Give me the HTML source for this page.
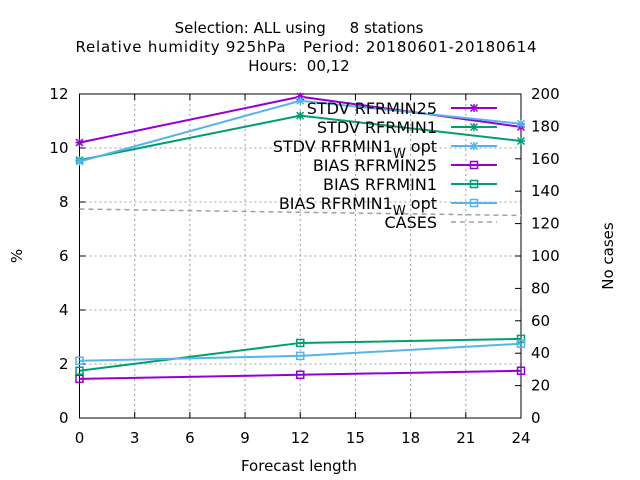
<!DOCTYPE html>
<html><head><meta charset="utf-8"><style>
body{margin:0;background:#fff;}
svg{display:block;font-family:"DejaVu Sans","Liberation Sans",sans-serif;}
svg text{white-space:pre;}
</style></head><body>
<svg id="chart" width="640" height="480" viewBox="0 0 640 480">
<g font-size="15" text-anchor="middle" fill="#000">
<text x="299" y="33" xml:space="preserve">Selection: ALL using     8 stations</text>
<text x="306" y="52" xml:space="preserve" textLength="461">Relative humidity 925hPa   Period: 20180601-20180614</text>
<text x="299" y="71" xml:space="preserve">Hours:  00,12</text>
</g>
<g id="grid"></g>
<g id="axes"></g>
<g id="series"></g>
<g id="legend"></g>
<text x="22" y="256" font-size="15" text-anchor="middle" transform="rotate(-90 22 256)">%</text>
<text x="613" y="256" font-size="15" text-anchor="middle" transform="rotate(-90 613 256)">No cases</text>
<text x="299" y="471" font-size="15" text-anchor="middle">Forecast length</text>
</svg>
<script>
const xVals=[0,12,24];
const stdv25=[10.2,11.9,10.78];
const stdv1=[9.55,11.2,10.26];
const stdvW=[9.5,11.75,10.9];
const bias25=[1.45,1.6,1.75];
const bias1=[1.75,2.78,2.93];
const biasW=[2.12,2.3,2.75];
const cases=[129,127,125];
const xTicks=[0,3,6,9,12,15,18,21,24];
const yTicks=[0,2,4,6,8,10,12];
const y2Ticks=[0,20,40,60,80,100,120,140,160,180,200];
const legendLabels=["STDV RFRMIN25","STDV RFRMIN1","STDV RFRMIN1_W opt","BIAS RFRMIN25","BIAS RFRMIN1","BIAS RFRMIN1_W opt","CASES"];

const L=79.5,R=521,T=94,B=418;
const X=v=>L+(R-L)*v/24, Y=v=>B-(B-T)*v/12, Y2=v=>B-(B-T)*v/200;
const NS="http://www.w3.org/2000/svg";
function mk(p,tag,a){const e=document.createElementNS(NS,tag);for(const k in a)e.setAttribute(k,a[k]);p.appendChild(e);return e;}
const grid=document.getElementById('grid'),axes=document.getElementById('axes'),ser=document.getElementById('series'),leg=document.getElementById('legend');
xTicks.forEach(t=>{
 if(t>0&&t<24){const g=mk(grid,'line',{x1:X(t),x2:X(t),y1:T,y2:B,stroke:'#a0a0a0','stroke-dasharray':'2,3','stroke-width':1});
 }
 const tk=mk(axes,'line',{x1:X(t),x2:X(t),y1:B,y2:B-6,stroke:'#000'});
 const tk2=mk(axes,'line',{x1:X(t),x2:X(t),y1:T,y2:T+6,stroke:'#000'});
 const tx=mk(axes,'text',{x:X(t),y:B+25,'font-size':15,'text-anchor':'middle'});tx.textContent=t;
 
});
yTicks.forEach(t=>{
 if(t>0&&t<12){const g=mk(grid,'line',{x1:L,x2:R,y1:Y(t),y2:Y(t),stroke:'#a0a0a0','stroke-dasharray':'2,3','stroke-width':1});
 }
 const tk=mk(axes,'line',{x1:L,x2:L+6,y1:Y(t),y2:Y(t),stroke:'#000'});
 const tx=mk(axes,'text',{x:L-11,y:Y(t)+5,'font-size':15,'text-anchor':'end'});tx.textContent=t;
 
});
y2Ticks.forEach(t=>{
 const tk=mk(axes,'line',{x1:R-6,x2:R,y1:Y2(t),y2:Y2(t),stroke:'#000'});
 const tx=mk(axes,'text',{x:R+10,y:Y2(t)+5,'font-size':15,'text-anchor':'start'});tx.textContent=t;
 
});
const frame=mk(axes,'rect',{x:L,y:T,width:R-L,height:B-T,fill:'none',stroke:'#000','stroke-width':1});


function star(p,x,y,c){const g=mk(p,'g',{stroke:c,'stroke-width':1.5});
 mk(g,'line',{x1:x-4,x2:x+4,y1:y,y2:y});mk(g,'line',{x1:x,x2:x,y1:y-4,y2:y+4});
 mk(g,'line',{x1:x-3.5,x2:x+3.5,y1:y-3.5,y2:y+3.5});mk(g,'line',{x1:x-3.5,x2:x+3.5,y1:y+3.5,y2:y-3.5});
 }
function box(p,x,y,c){const r=mk(p,'rect',{x:x-3.5,y:y-3.5,width:7,height:7,fill:'none',stroke:c,'stroke-width':1.5});
 }
const defs=[
 [stdv25,'#9400d3',star,'stdv-rfrmin25'],[stdv1,'#009e73',star,'stdv-rfrmin1'],[stdvW,'#56b4e9',star,'stdv-rfrmin1-w-opt'],
 [bias25,'#9400d3',box,'bias-rfrmin25'],[bias1,'#009e73',box,'bias-rfrmin1'],[biasW,'#56b4e9',box,'bias-rfrmin1-w-opt']];
const cl=mk(ser,'polyline',{points:xVals.map((x,i)=>X(x)+','+Y2(cases[i])).join(' '),fill:'none',stroke:'#a0a0a0','stroke-width':1.5,'stroke-dasharray':'5,4'});

defs.forEach(d=>{const g=mk(ser,'g',{});
 
 mk(g,'polyline',{points:xVals.map((x,i)=>X(x)+','+Y(d[0][i])).join(' '),fill:'none',stroke:d[1],'stroke-width':2});
 xVals.forEach((x,i)=>d[2](g,X(x),Y(d[0][i]),d[1]));});
legendLabels.forEach((lab,i)=>{const y=108+i*19;const g=mk(leg,'g',{});
 
 const t=mk(g,'text',{x:437,y:y+6,'font-size':16,'text-anchor':'end'});
 if(lab.includes('_W')){const parts=lab.split('_W');t.textContent=parts[0];
  const s=mk(t,'tspan',{dy:6,'font-size':13});s.textContent='W';const s2=mk(t,'tspan',{dy:-6});s2.textContent=parts[1];}
 else t.textContent=lab;
 if(i<6){const d=defs[i];mk(g,'line',{x1:451,x2:497,y1:y,y2:y,stroke:d[1],'stroke-width':2});d[2](g,474,y,d[1]);}
 else mk(g,'line',{x1:451,x2:497,y1:y,y2:y,stroke:'#a0a0a0','stroke-width':1.5,'stroke-dasharray':'5,4'});
});
</script>
</body></html>
